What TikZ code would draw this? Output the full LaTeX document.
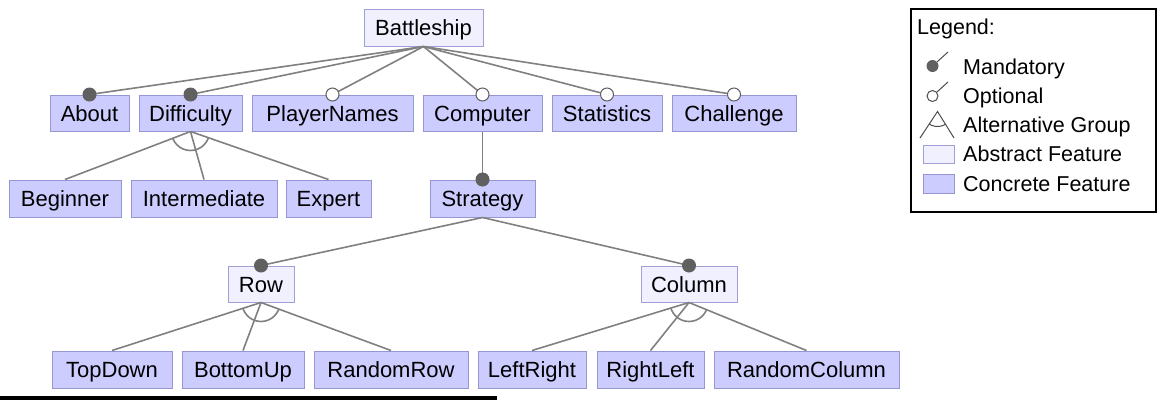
\documentclass[tikz,border=0pt]{standalone}
\usepackage{fontspec}
\setmainfont{Liberation Sans}
\definecolor{conc}{RGB}{204,204,255}
\definecolor{concb}{RGB}{150,150,210}
\definecolor{abst}{RGB}{240,240,255}
\definecolor{abstb}{RGB}{160,160,215}
\definecolor{edgec}{RGB}{128,128,128}
\definecolor{dotc}{RGB}{96,96,96}
\begin{document}
\begin{tikzpicture}[x=1pt,y=-1pt,
  feat/.style={draw, inner sep=0pt, minimum height=36pt, text height=18pt, text depth=2pt, font=\fontsize{22}{26}\selectfont, line width=1pt},
  concrete/.style={feat, fill=conc, draw=concb},
  abstract/.style={feat, fill=abst, draw=abstb},
  edgeline/.style={draw=edgec, line width=1.6pt},
  mand/.style={circle, fill=dotc, inner sep=0pt, minimum size=14pt},
  opt/.style={circle, fill=white, draw=dotc, line width=1pt, inner sep=0pt, minimum size=13pt},
  legtext/.style={anchor=west, inner sep=0pt, text height=18pt, text depth=2pt, font=\fontsize{21.5}{26}\selectfont},
]
\useasboundingbox (0,0) rectangle (1164,400);

% nodes
\node[abstract, minimum width=119pt, minimum height=37pt] (bat) at (423.5,27.5) {Battleship};

\node[concrete, minimum width=79pt] (about) at (89.5,113) {About};
\node[concrete, minimum width=103pt] (diff) at (190.5,113) {Difficulty};
\node[concrete, minimum width=161pt] (pn) at (332.5,113) {PlayerNames};
\node[concrete, minimum width=119pt] (comp) at (482.5,113) {Computer};
\node[concrete, minimum width=110pt] (stat) at (607,113) {Statistics};
\node[concrete, minimum width=124pt] (chal) at (734,113) {Challenge};

\node[concrete, minimum width=112pt, minimum height=37pt] (beg) at (65,198.5) {Beginner};
\node[concrete, minimum width=146pt, minimum height=37pt] (inter) at (204,198.5) {Intermediate};
\node[concrete, minimum width=85pt, minimum height=37pt] (exp) at (328.5,198.5) {Expert};
\node[concrete, minimum width=105pt, minimum height=37pt] (strat) at (482.5,198.5) {Strategy};

\node[abstract, minimum width=66pt] (row) at (261,284) {Row};
\node[abstract, minimum width=96pt] (col) at (689,284) {Column};

\node[concrete, minimum width=120pt, minimum height=37pt] (td) at (112,369.5) {TopDown};
\node[concrete, minimum width=122pt, minimum height=37pt] (bu) at (243,369.5) {BottomUp};
\node[concrete, minimum width=154pt, minimum height=37pt] (rr) at (391,369.5) {RandomRow};
\node[concrete, minimum width=108pt, minimum height=37pt] (lr) at (532,369.5) {LeftRight};
\node[concrete, minimum width=107pt, minimum height=37pt] (rl) at (650.5,369.5) {RightLeft};
\node[concrete, minimum width=185pt, minimum height=37pt] (rc) at (806.5,369.5) {RandomColumn};

% edges from root
\foreach \c in {about,diff,pn,comp,stat,chal} {
  \draw[edgeline] (bat.south) -- (\c.north);
}
\draw[edgeline] (comp.south) -- (strat.north);
\draw[edgeline] (strat.south) -- (row.north);
\draw[edgeline] (strat.south) -- (col.north);

% alternative groups
\draw[edgeline] (diff.south) -- (beg.north);
\draw[edgeline] (diff.south) -- (inter.north);
\draw[edgeline] (diff.south) -- (exp.north);
\begin{scope}
  \clip (diff.south) -- (beg.north) -- (exp.north) -- cycle;
  \draw[edgeline] (diff.south) circle[radius=19pt];
\end{scope}

\draw[edgeline] (row.south) -- (td.north);
\draw[edgeline] (row.south) -- (bu.north);
\draw[edgeline] (row.south) -- (rr.north);
\begin{scope}
  \clip (row.south) -- (td.north) -- (rr.north) -- cycle;
  \draw[edgeline] (row.south) circle[radius=19pt];
\end{scope}

\draw[edgeline] (col.south) -- (lr.north);
\draw[edgeline] (col.south) -- (rl.north);
\draw[edgeline] (col.south) -- (rc.north);
\begin{scope}
  \clip (col.south) -- (lr.north) -- (rc.north) -- cycle;
  \draw[edgeline] (col.south) circle[radius=19pt];
\end{scope}

% markers
\node[mand] (dabout) at (about.north) {};
\node[mand] (ddiff) at (diff.north) {};
\node[opt] (dpn) at (pn.north) {};
\node[opt] (dcomp) at (comp.north) {};
\node[opt] (dstat) at (stat.north) {};
\node[opt] (dchal) at (chal.north) {};
\node[mand] (dstrat) at (strat.north) {};
\node[mand] (drow) at (row.north) {};
\node[mand] (dcol) at (col.north) {};

% legend
\node[draw=black, line width=1.5pt, minimum width=245pt, minimum height=203pt, inner sep=0pt] (legend) at (1033.5,110.5) {};
\node[legtext] (lgt) at (917,26) {Legend:};
\node[legtext] (lm) at (963,66) {Mandatory};
\node[legtext] (lo) at (963,95) {Optional};
\node[legtext] (la) at (963,124) {Alternative Group};
\node[legtext] (lab) at (963,153) {Abstract Feature};
\node[legtext] (lc) at (963,183) {Concrete Feature};

\coordinate (mEnd) at (948,52);
\node[circle, fill=dotc, inner sep=0pt, minimum size=12pt] (mDot) at (932.5,66) {};
\draw[black!70, line width=1pt] (mDot) -- (mEnd);
\coordinate (oEnd) at (948,82);
\node[circle, draw=black!70, line width=1pt, inner sep=0pt, minimum size=11pt] (oDot) at (932.5,96) {};
\draw[black!70, line width=1pt] (oDot) -- (oEnd);

\coordinate (altA) at (937.5,111.5);
\coordinate (altL) at (920,138);
\coordinate (altR) at (954,138);
\draw[black!70, line width=1pt] (altL) -- (altA) -- (altR);
\begin{scope}
  \clip (altA) -- (altL) -- (altR) -- cycle;
  \draw[black!70, line width=1pt] (altA) circle[radius=15pt];
\end{scope}

\node[fill=abst, draw=abstb, line width=1pt, minimum width=31pt, minimum height=18pt, inner sep=0pt] (sab) at (938.5,154) {};
\node[fill=conc, draw=concb, line width=1pt, minimum width=31pt, minimum height=19pt, inner sep=0pt] (sco) at (938.5,183.5) {};

% bottom bar
\fill[black] (0,396) rectangle (497,400);
\end{tikzpicture}
\end{document}
